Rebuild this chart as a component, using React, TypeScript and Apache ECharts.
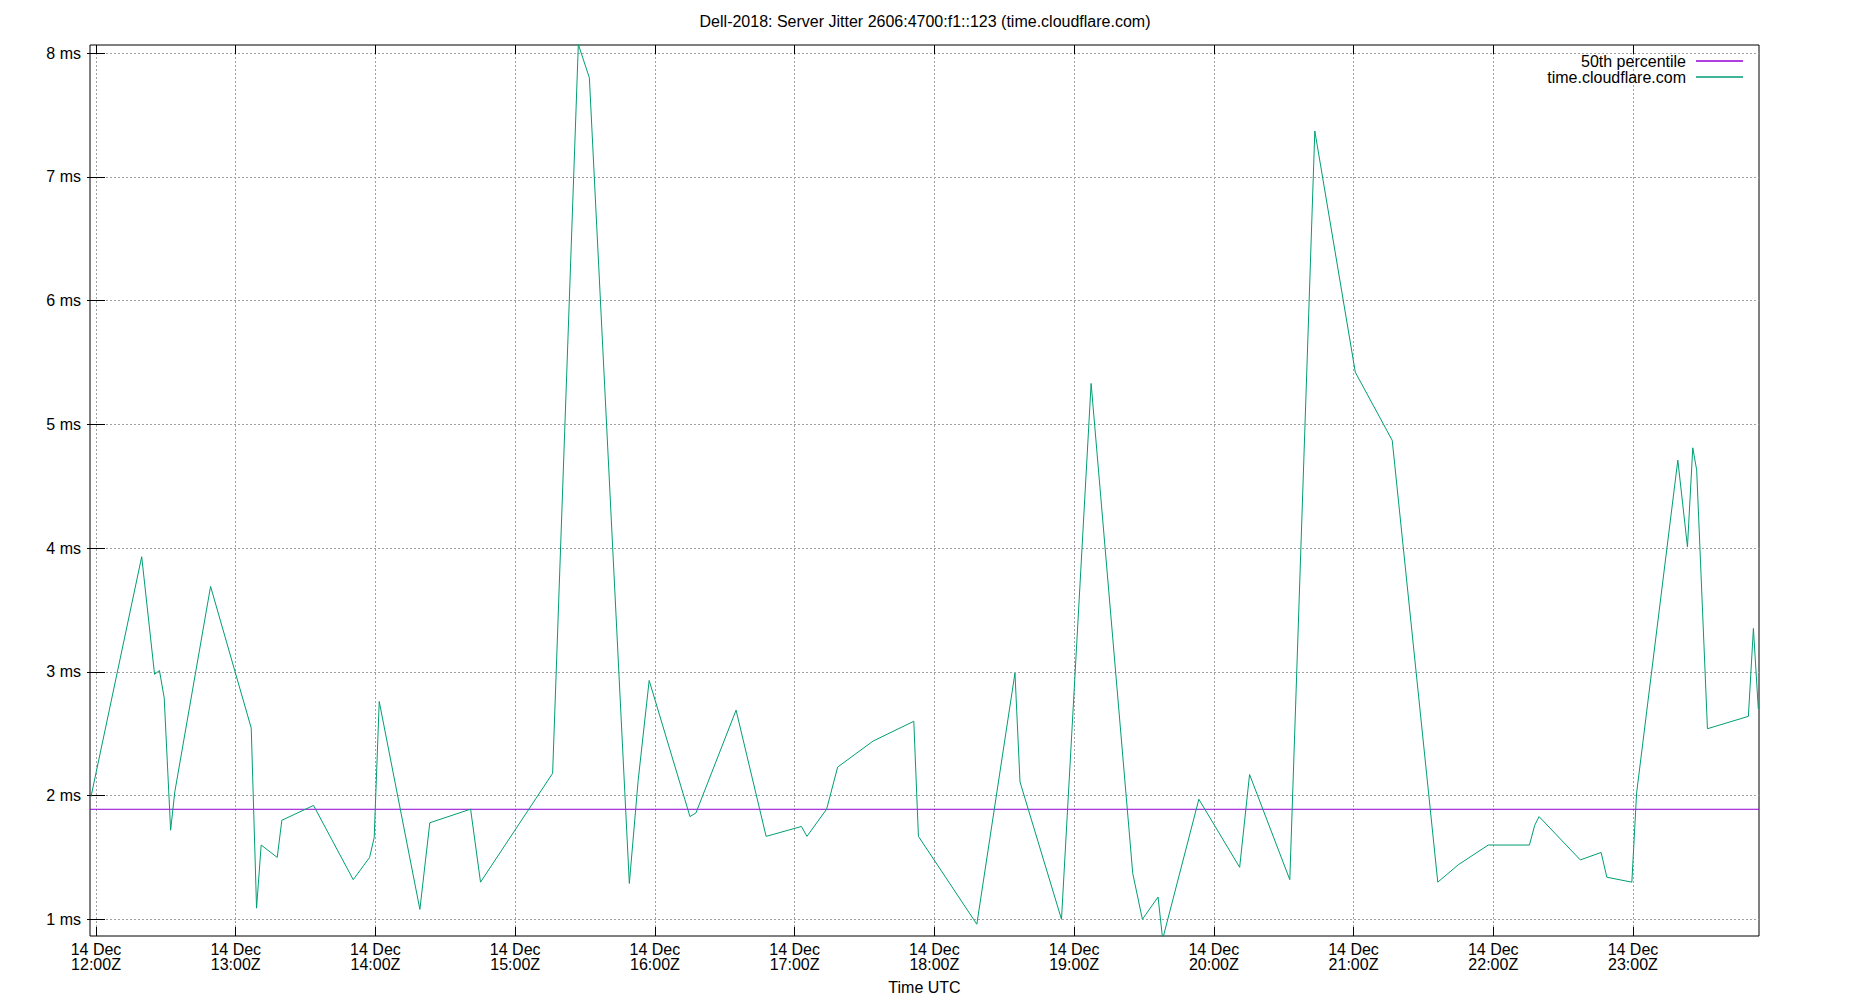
import React, { useEffect, useRef } from "react";
import * as echarts from "echarts";

const TITLE = "Dell-2018: Server Jitter 2606:4700:f1::123 (time.cloudflare.com)";
const X_NAME = "Time UTC";
const DATE_LABEL = "14 Dec";
const hourTicks = [0, 1, 2, 3, 4, 5, 6, 7, 8, 9, 10, 11];
const hourLabels = ["12:00Z", "13:00Z", "14:00Z", "15:00Z", "16:00Z", "17:00Z", "18:00Z", "19:00Z", "20:00Z", "21:00Z", "22:00Z", "23:00Z"];
const msTicks = [1, 2, 3, 4, 5, 6, 7, 8];
const X_MIN = -0.043;
const X_MAX = 11.902;
const Y_MIN = 0.865;
const Y_MAX = 8.065;

const MEDIAN_NAME = "50th percentile";
const SERIES_NAME = "time.cloudflare.com";
const medianMs = 1.889;

// hours after 14 Dec 12:00Z
const hours = [
  -0.036, 0.327, 0.419, 0.454, 0.488, 0.534, 0.564, 0.82, 1.111, 1.149, 1.182, 1.297, 1.33, 1.557, 1.841, 1.958,
  1.991, 2.027, 2.318, 2.389, 2.681, 2.752, 3.268, 3.452, 3.531, 3.817, 3.88, 3.959, 4.251, 4.294, 4.581, 4.796,
  5.049, 5.088, 5.229, 5.308, 5.561, 5.853, 5.886, 6.304, 6.577, 6.613, 6.91, 7.122, 7.42, 7.489, 7.601, 7.634,
  7.893, 8.185, 8.256, 8.544, 8.723, 9.013, 9.277, 9.603, 9.749, 9.964, 10.259, 10.297, 10.328, 10.623, 10.772,
  10.813, 10.992, 11.026, 11.321, 11.39, 11.428, 11.456, 11.533, 11.826, 11.862, 11.897,
];
const jitterMs = [
  1.99, 3.93, 2.98, 3.01, 2.79, 1.72, 2.03, 3.69, 2.545, 1.09, 1.6, 1.5, 1.8, 1.92, 1.32, 1.5,
  1.66, 2.76, 1.08, 1.78, 1.89, 1.3, 2.18, 8.07, 7.8, 1.29, 2.12, 2.93, 1.83, 1.86, 2.69, 1.67,
  1.75, 1.67, 1.89, 2.23, 2.44, 2.6, 1.67, 0.96, 2.99, 2.11, 1.0, 5.33, 1.37, 1.0, 1.18, 0.84,
  1.97, 1.42, 2.17, 1.32, 7.37, 5.42, 4.87, 1.3, 1.44, 1.6, 1.6, 1.76, 1.83, 1.48, 1.54,
  1.34, 1.3, 2.02, 4.71, 4.01, 4.81, 4.63, 2.54, 2.64, 3.35, 2.7,
];

const FONT = "Liberation Sans";

export default function App() {
  const ref = useRef<HTMLDivElement>(null);
  useEffect(() => {
    document.body.style.margin = "0";
    document.body.style.overflow = "hidden";
    if (!ref.current) return;
    const chart = echarts.init(ref.current, null, { renderer: "svg" });
    const gridLine = { show: true, lineStyle: { color: "#a0a0a0", width: 1, type: [2, 2] as any } };
    const tickStyle = { show: true, inside: true, length: 9, lineStyle: { color: "#000", width: 1 } };
    const xCommon = { type: "value" as const, min: X_MIN, max: X_MAX, axisLine: { show: false } };
    const yCommon = { type: "value" as const, min: Y_MIN, max: Y_MAX, axisLine: { show: false } };
    chart.setOption({
      animation: false,
      backgroundColor: "#fff",
      textStyle: { fontFamily: FONT },
      title: {
        text: TITLE,
        left: "center",
        top: 8,
        textStyle: { fontFamily: FONT, fontSize: 16, fontWeight: "normal", color: "#000" },
      },
      legend: {
        orient: "vertical",
        right: 102,
        top: 48,
        align: "right",
        icon: "rect",
        itemWidth: 47,
        itemHeight: 1.3,
        itemGap: 0,
        data: [MEDIAN_NAME, SERIES_NAME],
        textStyle: { fontFamily: FONT, fontSize: 16, color: "#000", lineHeight: 15, padding: [0, 5, 0, 0] },
      },
      grid: {
        left: 90,
        right: 91,
        top: 45,
        bottom: 64,
        show: true,
        borderColor: "#000",
        borderWidth: 1,
        backgroundColor: "transparent",
      },
      xAxis: [
        {
          ...xCommon,
          position: "bottom",
          name: X_NAME,
          nameLocation: "middle",
          nameGap: 43,
          nameTextStyle: { fontFamily: FONT, fontSize: 16, color: "#000" },
          axisTick: { ...tickStyle, customValues: hourTicks },
          axisLabel: {
            customValues: hourTicks,
            margin: 6,
            fontFamily: FONT,
            fontSize: 16,
            lineHeight: 15,
            color: "#000",
            formatter: (v: number) => `${DATE_LABEL}\n${hourLabels[Math.round(v)]}`,
          },
          splitLine: gridLine,
        },
        {
          ...xCommon,
          position: "top",
          axisTick: { ...tickStyle, customValues: hourTicks },
          axisLabel: { show: false, customValues: hourTicks },
          splitLine: { show: false },
        },
      ],
      yAxis: [
        {
          ...yCommon,
          position: "left",
          axisTick: { ...tickStyle, customValues: msTicks },
          axisLabel: {
            customValues: msTicks,
            margin: 9,
            fontFamily: FONT,
            fontSize: 16,
            color: "#000",
            formatter: (v: number) => `${Math.round(v)} ms`,
          },
          splitLine: gridLine,
        },
        {
          ...yCommon,
          position: "right",
          axisTick: { ...tickStyle, customValues: msTicks },
          axisLabel: { show: false, customValues: msTicks },
          splitLine: { show: false },
        },
      ],
      series: [
        {
          name: MEDIAN_NAME,
          type: "line",
          xAxisIndex: 0,
          yAxisIndex: 0,
          symbol: "none",
          color: "#9400d3",
          lineStyle: { color: "#9400d3", width: 1 },
          data: [
            [X_MIN, medianMs],
            [X_MAX, medianMs],
          ],
          z: 3,
        },
        {
          name: SERIES_NAME,
          type: "line",
          xAxisIndex: 0,
          yAxisIndex: 0,
          symbol: "none",
          color: "#009e73",
          lineStyle: { color: "#009e73", width: 1 },
          clip: true,
          data: hours.map((h, i) => [h, jitterMs[i]]),
          z: 4,
        },
      ],
    });
    return () => chart.dispose();
  }, []);
  return <div ref={ref} style={{ width: 1850, height: 1000 }} />;
}
